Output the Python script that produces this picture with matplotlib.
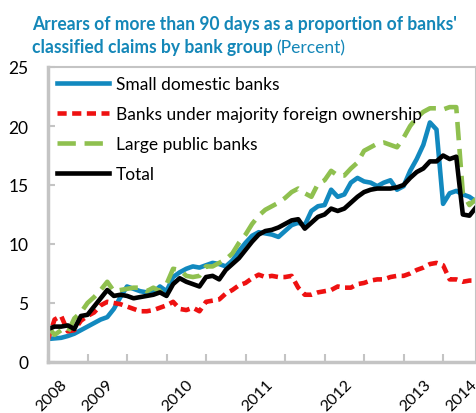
"""
Arrears of more than 90 days by bank group
"""
import numpy as np
import matplotlib
matplotlib.use('Agg')
import matplotlib.pyplot as plt

plt.rcParams['font.family'] = ['Lato', 'DejaVu Sans']

small_domestic = [1.95, 2.0, 2.05, 2.2, 2.4, 2.7, 3.0, 3.3, 3.6, 3.8,
                  4.5, 5.5, 6.4, 6.2, 6.0, 5.9, 5.9, 6.4, 6.0, 7.2,
                  7.6, 7.9, 8.1, 8.0, 8.2, 8.4, 8.3, 8.1, 8.6, 9.4,
                  10.1, 10.7, 11.0, 10.9, 10.8, 10.6, 11.1, 11.6, 11.8, 11.6,
                  12.8, 13.2, 13.3, 14.6, 14.0, 14.2, 15.2, 15.6, 15.3, 15.2,
                  14.9, 15.2, 15.4, 14.6, 14.9, 16.2, 17.2, 18.4, 20.3, 19.7,
                  13.4, 14.3, 14.5, 14.2, 14.0, 13.6]
foreign_owned = [1.9, 3.6, 3.9, 2.6, 2.7, 3.5, 3.9, 4.2, 4.8, 5.1,
                 5.0, 4.9, 4.7, 4.5, 4.3, 4.3, 4.4, 4.6, 4.8, 5.1,
                 4.5, 4.4, 4.6, 4.3, 5.1, 5.2, 5.3, 5.8, 6.1, 6.5,
                 6.7, 7.1, 7.4, 7.2, 7.3, 7.2, 7.2, 7.3, 6.3, 5.7,
                 5.7, 5.9, 6.0, 6.1, 6.4, 6.3, 6.3, 6.6, 6.7, 6.9,
                 7.0, 7.0, 7.2, 7.3, 7.3, 7.5, 7.8, 8.0, 8.3, 8.4,
                 8.2, 7.0, 7.0, 6.8, 6.9, 6.9]
large_public = [3.0, 2.3, 2.7, 2.5, 3.7, 4.2, 5.0, 5.5, 6.1, 6.8,
                6.0, 6.1, 6.2, 6.3, 6.3, 6.0, 6.3, 6.0, 6.6, 7.9,
                7.8, 7.3, 7.2, 7.3, 8.1, 8.1, 8.4, 8.7, 9.2, 10.1,
                10.8, 11.7, 12.4, 12.9, 13.2, 13.5, 13.9, 14.4, 14.7, 14.3,
                14.0, 15.1, 15.4, 16.2, 15.8, 15.8, 16.4, 16.9, 17.9, 18.2,
                18.5, 18.6, 18.4, 18.2, 19.0, 20.0, 20.7, 21.2, 21.5, 21.5,
                21.4, 21.6, 21.6, 14.3, 13.3, 13.8]
total = [2.8, 3.0, 3.0, 3.1, 2.8, 3.9, 4.0, 4.7, 5.4, 6.1,
         5.6, 5.7, 5.6, 5.4, 5.5, 5.6, 5.7, 5.9, 5.6, 6.6,
         7.1, 6.8, 6.6, 6.4, 7.2, 7.3, 7.0, 7.8, 8.3, 8.8,
         9.5, 10.2, 10.8, 11.1, 11.2, 11.4, 11.7, 12.0, 12.1, 11.3,
         11.8, 12.3, 12.5, 13.0, 12.8, 13.0, 13.5, 14.0, 14.4, 14.6,
         14.7, 14.7, 14.7, 14.8, 15.0, 15.6, 16.1, 16.4, 17.0, 17.0,
         17.5, 17.2, 17.4, 12.5, 12.4, 13.1]

year_labels = ['2008', '2009', '2010', '2011', '2012', '2013', '2014']
year_label_pos = [0.55, 7.5, 19.7, 31.8, 43.8, 55.8, 62.8]

teal = '#1487b8'
grey = '#c4c4c4'

x = np.arange(len(total))

fig = plt.figure(figsize=(4.77, 4.14), dpi=100)
ax = fig.add_axes([48 / 477, 51 / 414, 428 / 477, 295 / 414])

ax.plot(x, small_domestic, color='#1289bf', lw=3.3, label='Small domestic banks')
ax.plot(x, foreign_owned, color='#ee1111', lw=3.3, dashes=(2, 1.2),
        label='Banks under majority foreign ownership')
ax.plot(x, large_public, color='#8fc04f', lw=3.3, dashes=(4, 1.9),
        label='Large public banks')
ax.plot(x, total, color='black', lw=3.3, label='Total')

ax.set_xlim(0, len(total) - 1)
ax.set_ylim(0, 25)
ax.set_yticks([0, 5, 10, 15, 20, 25])
ax.tick_params(axis='y', direction='in', length=5, width=1.5, color=grey,
               labelsize=12.5, pad=14)

# tick marks every six months, year labels set separately
ax.set_xticks(np.arange(0, len(total), 6))
ax.set_xticklabels([])
ax.tick_params(axis='x', direction='in', length=6, width=1.5, color=grey)
for lab, pos in zip(year_labels, year_label_pos):
    ax.text(pos, -0.05, lab, transform=ax.get_xaxis_transform(),
            rotation=45, ha='center', va='top', fontsize=11.5)

for side in ['left', 'bottom']:
    ax.spines[side].set_color(grey)
    ax.spines[side].set_linewidth(2.5)
for side in ['top', 'right']:
    ax.spines[side].set_color(grey)
    ax.spines[side].set_linewidth(1.5)

ax.legend(loc='upper left', bbox_to_anchor=(0.0, 1.0), frameon=False,
          fontsize=12.5, handlelength=3.0, handletextpad=0.4, labelspacing=0.82,
          borderaxespad=0.1)

# title in two parts: bold heading + plain unit, first line sized to 423 px
renderer = fig.canvas.get_renderer()
t1 = fig.text(32 / 477, 1 - 30 / 414, "Arrears of more than 90 days as a proportion of banks'",
              color=teal, fontsize=11, fontweight='bold', ha='left', va='baseline')
w = t1.get_window_extent(renderer).width
tsize = 11 * 423 / w
t1.set_fontsize(tsize)
t2 = fig.text(32 / 477, 1 - 53 / 414, 'classified claims by bank group',
              color=teal, fontsize=tsize, fontweight='bold', ha='left', va='baseline')
bb = t2.get_window_extent(renderer)
fig.text(bb.x1 / fig.bbox.width + 0.008, 1 - 53 / 414, '(Percent)',
         color=teal, fontsize=tsize, ha='left', va='baseline')

fig.savefig('out.png', dpi=100)
